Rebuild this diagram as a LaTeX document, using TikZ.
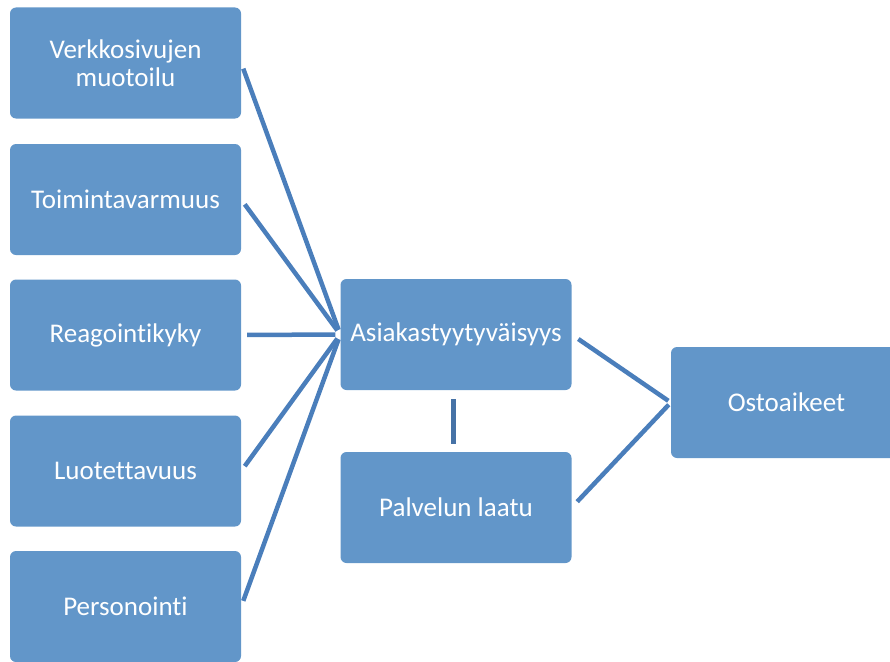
\documentclass[tikz,border=0pt]{standalone}
\usepackage{fontspec}
\setmainfont{Carlito}[Ligatures=NoCommon]
\definecolor{boxblue}{RGB}{98,150,201}
\definecolor{lineblue}{RGB}{74,126,187}
\definecolor{linkblue}{RGB}{70,114,166}

\begin{document}
\begin{tikzpicture}[x=1pt, y=-1pt,
        box/.style={rectangle, rounded corners=6pt, fill=boxblue, text=white, minimum height=111pt, minimum width=231pt, align=center, font=\fontsize{27}{28}\selectfont},
        link/.style={draw=lineblue, line width=4.5pt}]
        \useasboundingbox (0, 0) rectangle (890, 661);
        \begin{scope}
        \clip (0, 0) rectangle (890, 661);
        % Nodes
        \node (verkko) [box] at (125.5, 63) {Verkkosivujen\\muotoilu};
        \node (toiminta) [box] at (125.5, 199.5) {Toimintavarmuus};
        \node (reagointi) [box] at (125.5, 335) {Reagointikyky};
        \node (luotettavuus) [box] at (125.5, 471) {Luotettavuus};
        \node (personointi) [box] at (125.5, 606.5) {Personointi};
        \node (asiakas) [box] at (456, 334.5) {Asiakastyytyväisyys};
        \node (palvelu) [box] at (456, 507.5) {Palvelun laatu};
        \node (osto) [box] at (786.5, 402.5) {Ostoaikeet};
        \end{scope}
        % Lines
        \draw[link, shorten <=6pt, shorten >=5pt] (verkko.east) -- (asiakas.west);
        \draw[link, shorten <=6pt, shorten >=5pt] (toiminta.east) -- (asiakas.west);
        \draw[link, shorten <=6pt, shorten >=5pt] (reagointi.east) -- (asiakas.west);
        \draw[link, shorten <=6pt, shorten >=5pt] (luotettavuus.east) -- (asiakas.west);
        \draw[link, shorten <=6pt, shorten >=5pt] (personointi.east) -- (asiakas.west);
        \draw[link, shorten <=8pt, shorten >=3pt] (asiakas.east) -- (osto.west);
        \draw[link, shorten <=8pt, shorten >=3pt] (palvelu.east) -- (osto.west);
        \draw[draw=linkblue, line width=5pt, shorten <=9pt, shorten >=8pt] ([xshift=-3pt]asiakas.south) -- ([xshift=-3pt]palvelu.north);
      \end{tikzpicture}
\end{document}
